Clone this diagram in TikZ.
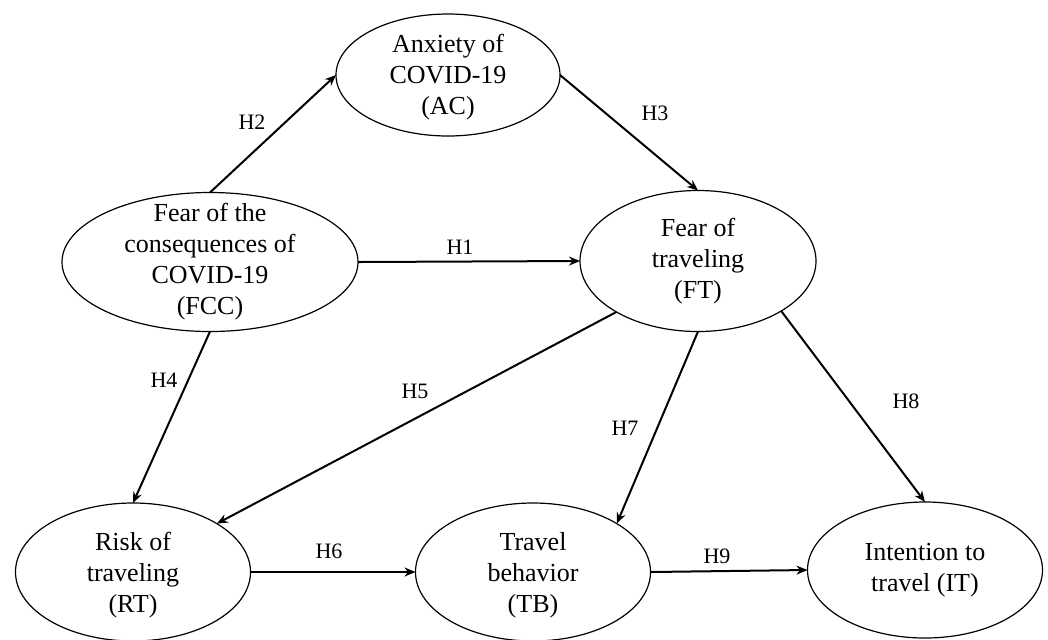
\documentclass[tikz,border=0pt]{standalone}
\usepackage{fontspec}
\setmainfont{Liberation Serif}
\usetikzlibrary{shapes.geometric,arrows.meta}
\tikzset{
  ell/.style={ellipse,draw,line width=0.6pt,inner sep=0pt,outer sep=0pt},
  txt/.style={align=center,inner sep=0pt,font=\fontsize{13}{15.5}\selectfont},
  lbl/.style={inner sep=0pt,font=\fontsize{11}{12}\selectfont},
  arr/.style={line width=1pt,-{Stealth[length=5.5pt,width=4.5pt]}}
}
\begin{document}
\begin{tikzpicture}[x=0.5pt,y=-0.5pt]
\useasboundingbox (0,0) rectangle (1048,639);
% ellipses
\node[ell,minimum width=112pt,minimum height=61pt] (AC) at (448,75) {};
\node[ell,minimum width=148pt,minimum height=69.5pt] (FCC) at (210,262) {};
\node[ell,minimum width=118pt,minimum height=70.5pt] (FT) at (698,261) {};
\node[ell,minimum width=117.5pt,minimum height=69pt] (RT) at (133,572) {};
\node[ell,minimum width=117.5pt,minimum height=69pt] (TB) at (533,572) {};
\node[ell,minimum width=117.5pt,minimum height=68pt] (IT) at (925,570) {};
% texts
\node[txt] (ACt) at ([yshift=-1pt]AC) {Anxiety of\\COVID-19\\(AC)};
\node[txt] (FCCt) at (FCC) {Fear of the\\consequences of\\COVID-19\\(FCC)};
\node[txt] (FTt) at (FT) {Fear of\\traveling\\(FT)};
\node[txt] (RTt) at ([yshift=-1.5pt]RT) {Risk of\\traveling\\(RT)};
\node[txt] (TBt) at ([yshift=-1.5pt]TB) {Travel\\behavior\\(TB)};
\node[txt] (ITt) at (IT) {Intention to\\travel (IT)};
% connectors
\draw[arr] (FCC.north) -- (AC.west);
\draw[arr] (AC.east) -- (FT.north);
\draw[arr] (FCC.east) -- (FT.west);
\draw[arr] (FCC.south) -- (RT.north);
\draw[arr] (FT.212) -- (RT.30);
\draw[arr] (FT.south) -- (TB.30);
\draw[arr] (FT.329) -- (IT.north);
\draw[arr] (RT.east) -- (TB.west);
\draw[arr] (TB.east) -- (IT.west);
% labels
\node[lbl] (l1) at (460,247) {H1};
\node[lbl] (l2) at (252,122) {H2};
\node[lbl] (l3) at (655,113) {H3};
\node[lbl] (l4) at (164,380) {H4};
\node[lbl] (l5) at (415,391) {H5};
\node[lbl] (l6) at (329,551) {H6};
\node[lbl] (l7) at (625,428) {H7};
\node[lbl] (l8) at (906,401) {H8};
\node[lbl] (l9) at (717,556) {H9};
\end{tikzpicture}
\end{document}
